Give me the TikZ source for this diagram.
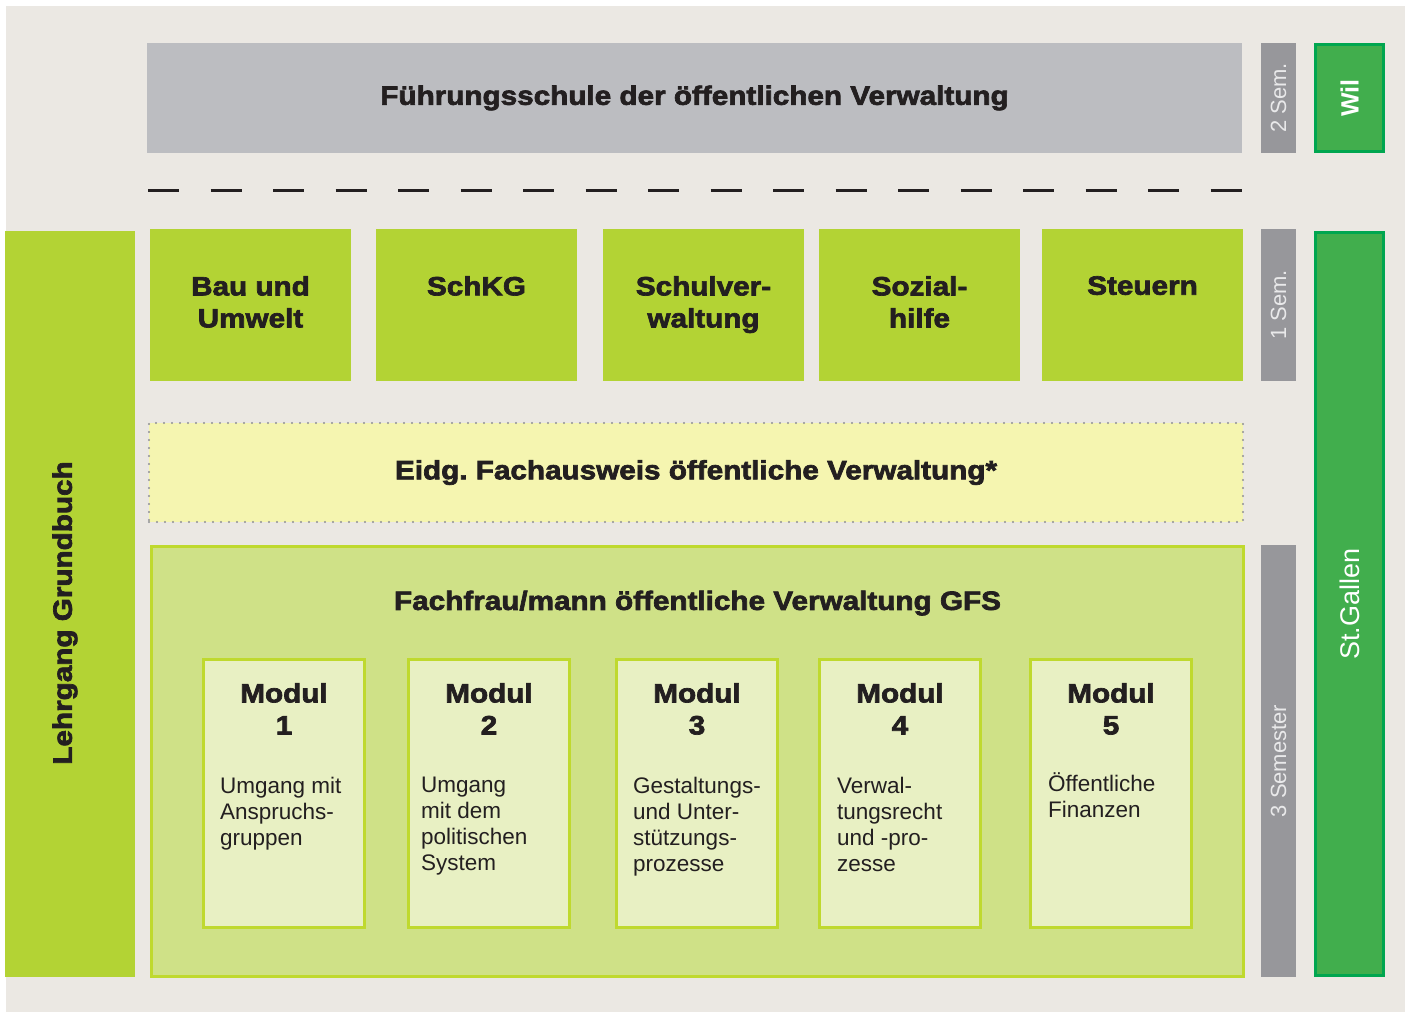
\documentclass[tikz,border=0pt]{standalone}
\usepackage{fontspec}
\setmainfont{Liberation Sans}
\newfontfamily\headfont[FakeStretch=1.12, BoldFeatures={FakeBold=2.6}]{Liberation Sans}
\usetikzlibrary{positioning}
\frenchspacing

\definecolor{paper}{HTML}{EBE8E3}
\definecolor{ink}{HTML}{231F20}
\definecolor{topgrey}{HTML}{BCBDC1}
\definecolor{semgrey}{HTML}{97979B}
\definecolor{semink}{HTML}{E9E9EA}
\definecolor{lime}{HTML}{B3D334}
\definecolor{citygreen}{HTML}{41AE4D}
\definecolor{cityline}{HTML}{00A650}
\definecolor{paleyellow}{HTML}{F5F5B0}
\definecolor{dotgrey}{HTML}{8F9096}
\definecolor{gfsfill}{HTML}{CFE187}
\definecolor{gfsline}{HTML}{BFD92E}
\definecolor{modfill}{HTML}{E8F0C3}

\begin{document}
\begin{tikzpicture}[x=1pt, y=-1pt,
    box/.style={rectangle, draw=none, inner sep=0pt, outer sep=0pt},
    topic/.style={box, fill=lime, minimum width=201pt, minimum height=152pt},
    semester/.style={box, fill=semgrey, minimum width=35pt},
    city/.style={box, fill=citygreen, draw=cityline, line width=3pt, minimum width=68pt},
    modul/.style={box, fill=modfill, draw=gfsline, line width=3pt, minimum width=161pt, minimum height=268pt},
    headtext/.style={inner sep=0pt, text=ink, align=center, font=\headfont\bfseries\fontsize{26.5}{32}\selectfont},
    bodytext/.style={inner sep=0pt, text=ink, align=left, font=\fontsize{22.5}{26}\selectfont},
    semtext/.style={inner sep=0pt, rotate=90, text=semink, font=\fontsize{22}{26}\selectfont},
    citytext/.style={inner sep=0pt, rotate=90, text=white, font=\fontsize{27}{30}\selectfont},
    dashline/.style={draw=ink, line width=3pt, dash pattern=on 31pt off 31.5pt}]

    % Paper
    \fill[white] (0,0) rectangle (1410,1014);
    \fill[paper] (6,6) rectangle (1405,1012);

    % Top row
    \node[box, fill=topgrey, minimum width=1095pt, minimum height=110pt, headtext] (fuehrung) at (694.5,98) {Führungsschule der öffentlichen Verwaltung};
    \node[semester, minimum height=110pt] (sem2) at (1278.5,98) {};
    \node[semtext] (sem2txt) at (sem2) {2 Sem.};
    \node[city, minimum height=107pt] (wil) at (1349.5,98) {};
    \node[citytext, font=\bfseries\fontsize{25}{30}\selectfont] (wiltxt) at (wil) {Wil};

    % Dashed separator
    \coordinate (dashstart) at (148,190);
    \coordinate (dashend) at (1243,190);
    \draw[dashline] (dashstart) -- (dashend);

    % Left bar
    \node[box, fill=lime, minimum width=130pt, minimum height=746pt] (grundbuch) at (70,604) {};
    \node[headtext, rotate=90] (grundbuchtxt) at (65,613) {Lehrgang Grundbuch};

    % Specialisations
    \node[topic] (bau) at (250.5,305) {};
    \node[topic] (schkg) at (476.5,305) {};
    \node[topic] (schule) at (703.5,305) {};
    \node[topic] (sozial) at (919.5,305) {};
    \node[topic] (steuern) at (1142.5,305) {};
    \node[headtext, below=47pt of bau.north] (bautxt) {Bau und\\Umwelt};
    \node[headtext, below=47pt of schkg.north] (schkgtxt) {SchKG};
    \node[headtext, below=47pt of schule.north] (schuletxt) {Schulver-\\waltung};
    \node[headtext, below=47pt of sozial.north] (sozialtxt) {Sozial-\\hilfe};
    \node[headtext, below=47pt of steuern.north] (steuerntxt) {Steuern};
    \node[semester, minimum height=152pt] (sem1) at (1278.5,305) {};
    \node[semtext] (sem1txt) at (sem1) {1 Sem.};
    \node[city, minimum height=743pt] (stgallen) at (1349.5,604) {};
    \node[citytext] (stgallentxt) at (stgallen) {St.Gallen};

    % Federal certificate
    \node[box, fill=paleyellow, draw=dotgrey, line width=2.2pt, line cap=round, dash pattern=on 0pt off 8pt,
        minimum width=1094pt, minimum height=99pt, headtext] (fachausweis) at (696,472.5) {Eidg. Fachausweis öffentliche Verwaltung*};

    % GFS course with modules
    \node[box, fill=gfsfill, draw=gfsline, line width=3pt, minimum width=1092pt, minimum height=430pt] (gfs) at (697.5,761.5) {};
    \node[headtext, below=44pt of gfs.north] (gfstxt) {Fachfrau/mann öffentliche Verwaltung GFS};
    \node[semester, minimum height=432pt] (sem3) at (1278.5,761) {};
    \node[semtext] (sem3txt) at (sem3) {3 Semester};

    \node[modul] (m1) at (284,793.5) {};
    \node[modul] (m2) at (489,793.5) {};
    \node[modul] (m3) at (697,793.5) {};
    \node[modul] (m4) at (900,793.5) {};
    \node[modul] (m5) at (1111,793.5) {};

    \node[headtext, below=23.5pt of m1.north] (m1title) {Modul\\1};
    \node[headtext, below=23.5pt of m2.north] (m2title) {Modul\\2};
    \node[headtext, below=23.5pt of m3.north] (m3title) {Modul\\3};
    \node[headtext, below=23.5pt of m4.north] (m4title) {Modul\\4};
    \node[headtext, below=23.5pt of m5.north] (m5title) {Modul\\5};

    \node[bodytext, anchor=north west] (m1body) at ([shift={(16.5,117)}]m1.north west) {Umgang mit\\Anspruchs-\\gruppen};
    \node[bodytext, anchor=north west] (m2body) at ([shift={(12.5,117)}]m2.north west) {Umgang\\mit dem\\politischen\\System};
    \node[bodytext, anchor=north west] (m3body) at ([shift={(16.5,117)}]m3.north west) {Gestaltungs-\\und Unter-\\stützungs-\\prozesse};
    \node[bodytext, anchor=north west] (m4body) at ([shift={(17.5,117)}]m4.north west) {Verwal-\\tungsrecht\\und -pro-\\zesse};
    \node[bodytext, anchor=north west] (m5body) at ([shift={(17.5,113)}]m5.north west) {Öffentliche\\Finanzen};
\end{tikzpicture}
\end{document}
